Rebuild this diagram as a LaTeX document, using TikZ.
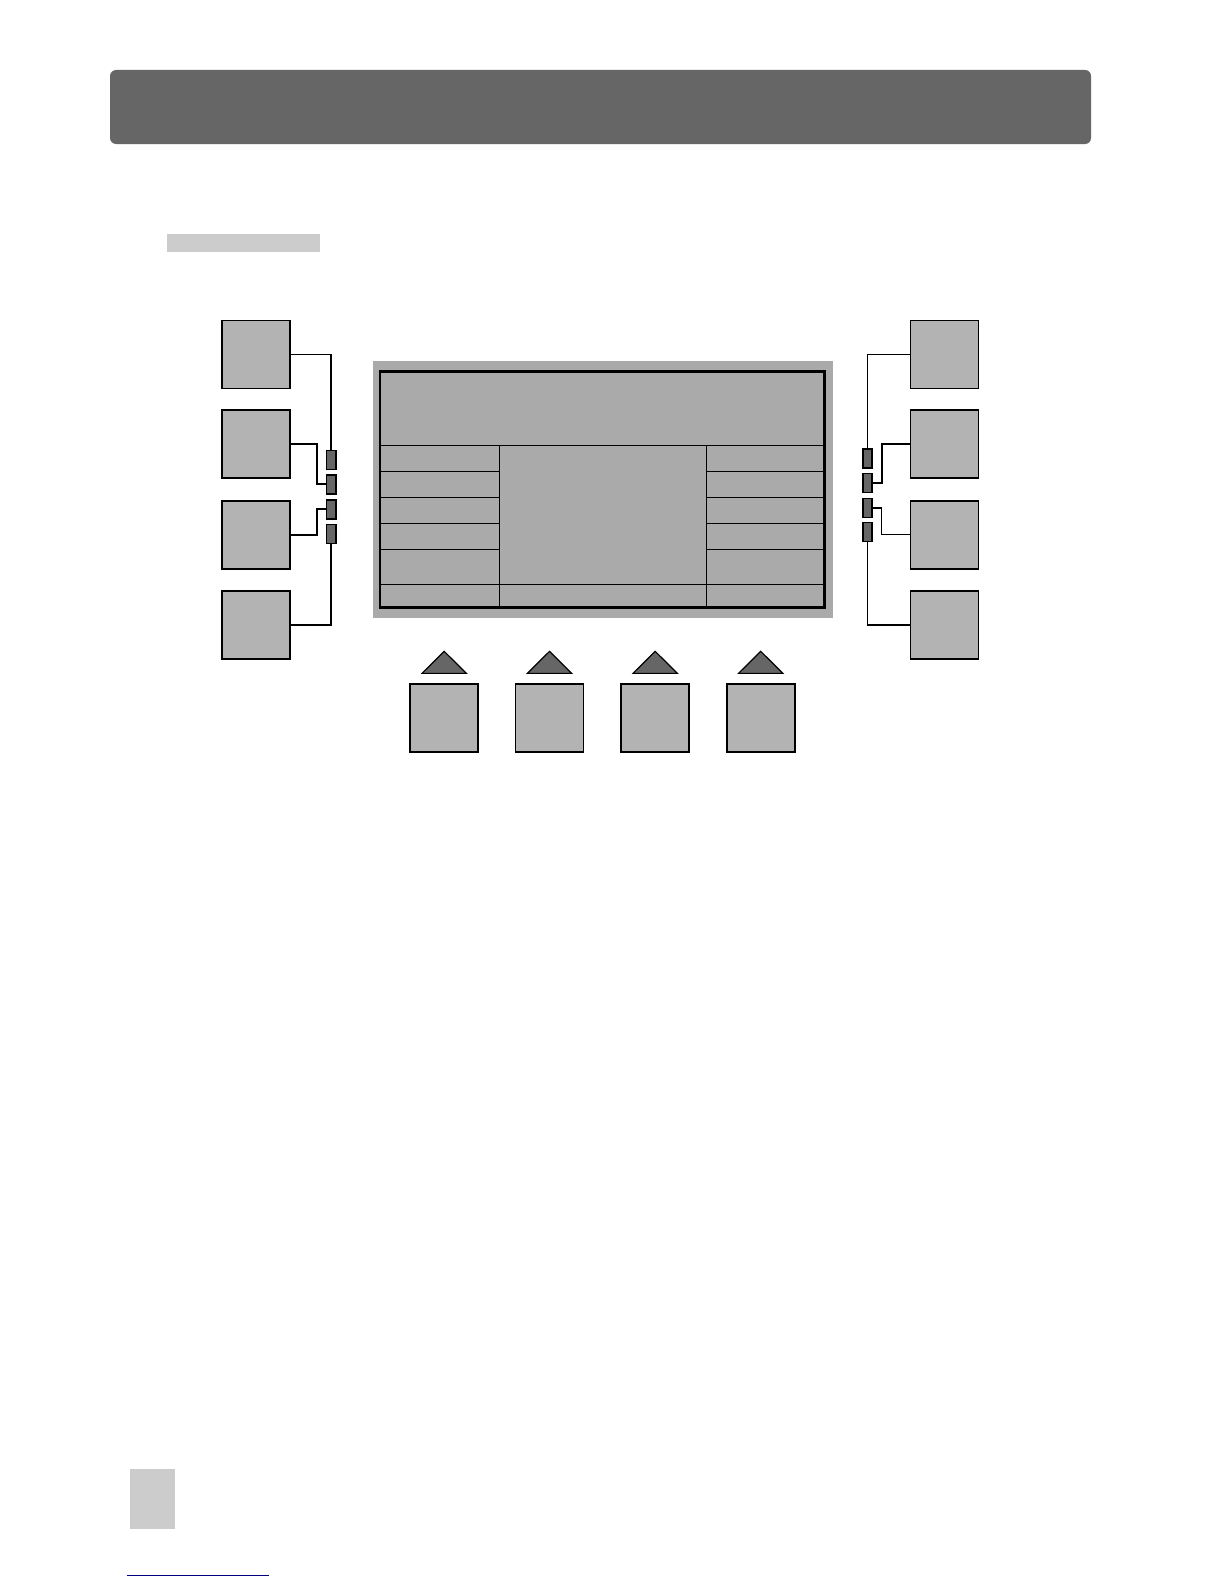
\documentclass[tikz,border=0pt]{standalone}
\usetikzlibrary{calc}
\definecolor{hdr}{HTML}{666666}
\definecolor{btnfill}{HTML}{B3B3B3}
\definecolor{scr}{HTML}{AAAAAA}
\definecolor{lite}{HTML}{CCCCCC}
\definecolor{dblue}{HTML}{000080}
\tikzset{
  keybox/.style={draw=black, fill=btnfill, line width=1.7pt, minimum width=68pt, minimum height=68pt, inner sep=0pt},
  ledbox/.style={draw=black, fill=hdr, line width=1.6pt, minimum width=9.5pt, minimum height=19pt, inner sep=0pt},
  wire/.style={draw=black, line width=1.8pt},
  thinwire/.style={draw=black, line width=1.1pt},
  cell/.style={draw=black, line width=1.3pt},
  tri/.style={draw=black, fill=hdr, line width=1.2pt, line join=miter}
}
\begin{document}
\begin{tikzpicture}[x=1pt,y=-1pt]
\useasboundingbox (0,0) rectangle (1224,1584);
\fill[white] (0,0) rectangle (1224,1584);
% header bar
\node[fill=hdr, rounded corners=6pt, minimum width=981pt, minimum height=74pt, inner sep=0pt] (header) at (600.5,107) {};
% light label bar
\node[fill=lite, minimum width=153.4pt, minimum height=18.5pt, inner sep=0pt] (label) at (243.3,243.2) {};
% page tab and link line
\node[fill=lite, minimum width=45pt, minimum height=60pt, inner sep=0pt] (tab) at (152.5,1498.5) {};
\coordinate (lnA) at (126.7,1575);
\coordinate (lnB) at (269,1575);
\draw[dblue, line width=1pt] (lnA) -- (lnB);

% screen
\node[fill=scr, minimum width=460pt, minimum height=257pt, inner sep=0pt] (bezel) at (603,489.5) {};
\coordinate (s1) at (380,371.7);
\coordinate (s2) at (824.3,607.7);
\fill[scr] (s1) rectangle (s2);
% inner cells
\draw[cell] (380,445.7) -- (824.3,445.7);
\draw[cell] (499.3,445.7) -- (499.3,607.7);
\draw[cell] (706.7,445.7) -- (706.7,607.7);
\foreach \yy in {471.3,497.3,523.3,549.3} {
  \draw[cell] (380,\yy) -- (499.3,\yy);
  \draw[cell] (706.7,\yy) -- (824.3,\yy);
}
\draw[cell] (380,584.3) -- (824.3,584.3);
\draw[black, line width=2.7pt] (s1) rectangle (s2);

% left keys
\node[keybox] (lb1) at (256.2,354.5) {};
\node[keybox] (lb2) at (256.2,444.3) {};
\node[keybox] (lb3) at (256.2,534.7) {};
\node[keybox] (lb4) at (256.2,625.3) {};
\node[ledbox] (ls1) at (331.3,459.9) {};
\node[ledbox] (ls2) at (331.3,484.2) {};
\node[ledbox] (ls3) at (331.3,509.2) {};
\node[ledbox] (ls4) at (331.3,533.8) {};
\draw[wire] (lb1.east) -| (ls1.north);
\draw[wire] (lb2.east) -- ++(25.7,0) |- (ls2.west);
\draw[wire] (lb3.east) -- ++(25.7,0) |- (ls3.west);
\draw[wire] (lb4.east) -| (ls4.south);

% right keys
\node[keybox] (rb1) at (944.5,354.5) {};
\node[keybox] (rb2) at (944.5,444.3) {};
\node[keybox] (rb3) at (944.5,534.7) {};
\node[keybox] (rb4) at (944.5,625.3) {};
\node[ledbox] (rs1) at (867.5,458.5) {};
\node[ledbox] (rs2) at (867.5,483) {};
\node[ledbox] (rs3) at (867.5,508) {};
\node[ledbox] (rs4) at (867.5,532) {};
\draw[wire] (rb1.west) -| (rs1.north);
\draw[wire] (rb2.west) -- ++(-28,0) |- (rs2.east);
\draw[thinwire] (rb3.west) -- ++(-28,0) |- (rs3.east);
\draw[wire] (rb4.west) -| (rs4.south);

% bottom keys with triangles
\foreach \n/\xx in {1/444.2,2/549.5,3/655.2,4/760.7} {
  \node[keybox] (bb\n) at (\xx,717.9) {};
  \draw[tri] ($(bb\n.north)+(-22.2,-9.7)$) -- ($(bb\n.north)+(0,-31.7)$) -- ($(bb\n.north)+(22.2,-9.7)$) -- cycle;
}
\end{tikzpicture}
\end{document}
